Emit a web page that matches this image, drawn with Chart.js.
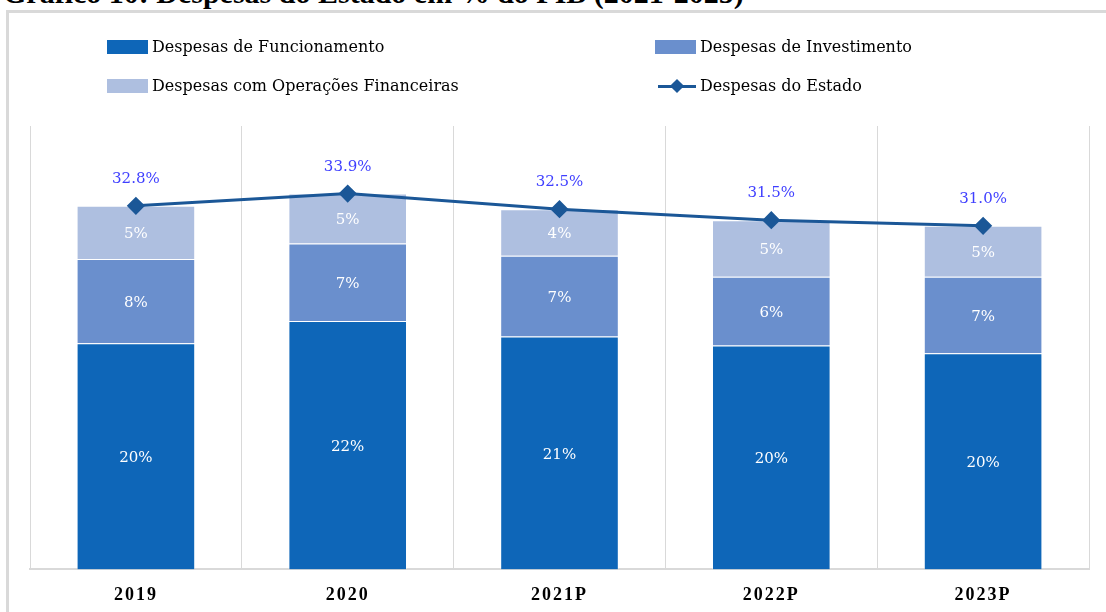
<!DOCTYPE html>
<html lang="pt">
<head>
<meta charset="utf-8">
<script src="https://cdn.jsdelivr.net/npm/chart.js@4"></script>
<style>
  html, body { margin: 0; padding: 0; background: #fff; overflow: hidden; }
  body { width: 1106px; height: 612px; position: relative; overflow: hidden; }
  .title { position: absolute; left: 3px; top: -24px; font: bold 30px "Liberation Serif", serif; color: #000; white-space: nowrap; }
  .frame { position: absolute; left: 6px; top: 10px; width: 1300px; height: 700px; border-left: 3px solid #d9d9d9; border-top: 3px solid #d9d9d9; }
  .wrap { position: absolute; left: 0; top: 0; width: 1106px; height: 629px; }
  .legend { position: absolute; font: 16px "DejaVu Serif", serif; color: #000; display: flex; align-items: center; white-space: nowrap; }
  .legend .box { width: 41px; height: 14px; margin-right: 4px; }
  .legend .ln { width: 38px; height: 14px; margin-right: 4px; position: relative; }
  .legend .ln::before { content: ""; position: absolute; left: 0; right: 0; top: 6px; height: 3px; background: #1b5797; }
  .legend .ln::after { content: ""; position: absolute; left: 14px; top: 2px; width: 10px; height: 10px; background: #1b5797; transform: rotate(45deg); }
</style>
</head>
<body>
<div class="title">Gráfico 10: Despesas do Estado em % do PIB (2021-2025)</div>
<div class="frame"></div>
<div class="wrap"><canvas id="chart"></canvas></div>
<div id="legend"></div>
<script>
const categories = ['2019', '2020', '2021P', '2022P', '2023P'];
const funcionamento = [20.4, 22.4, 21.0, 20.2, 19.5];
const investimento = [7.6, 7.0, 7.3, 6.2, 6.9];
const financeiras = [4.8, 4.5, 4.2, 5.1, 4.6];
const totalEstado = [32.8, 33.9, 32.5, 31.5, 31.0];

const seriesNames = ['Despesas de Funcionamento', 'Despesas de Investimento', 'Despesas com Operações Financeiras', 'Despesas do Estado'];
const barColors = ['#0e66b8', '#6a8fcd', '#aebfe0'];
const lineColor = '#1b5797';

// legend drawn as html, two columns like the original
const legendPos = [[107, 37], [655, 37], [107, 76], [658, 76]];
const legendEl = document.getElementById('legend');
seriesNames.forEach((name, i) => {
    const item = document.createElement('div');
    item.className = 'legend';
    item.style.left = legendPos[i][0] + 'px';
    item.style.top = legendPos[i][1] + 'px';
    const mark = document.createElement('span');
    if (i < 3) {
        mark.className = 'box';
        mark.style.background = barColors[i];
    } else {
        mark.className = 'ln';
    }
    item.appendChild(mark);
    item.appendChild(document.createTextNode(name));
    legendEl.appendChild(item);
});

const valueLabels = {
    id: 'valueLabels',
    beforeDraw(chart) {
        chart.ctx.letterSpacing = '2px';
    },
    beforeDatasetsDraw(chart) {
        chart.ctx.letterSpacing = '0px';
    },
    afterDatasetsDraw(chart) {
        const ctx = chart.ctx;
        ctx.save();
        ctx.textAlign = 'center';
        ctx.textBaseline = 'middle';
        chart.data.datasets.forEach((ds, di) => {
            const meta = chart.getDatasetMeta(di);
            meta.data.forEach((el, i) => {
                const v = ds.data[i];
                if (ds.type === 'line') {
                    ctx.font = '15px "DejaVu Serif", serif';
                    ctx.fillStyle = '#3f3fff';
                    ctx.fillText(v.toFixed(1) + '%', el.x, el.y - 27);
                } else {
                    const p = el.getProps(['x', 'y', 'base'], true);
                    ctx.font = '15px "DejaVu Serif", serif';
                    ctx.fillStyle = '#ffffff';
                    ctx.fillText(Math.round(v) + '%', p.x, (p.y + p.base) / 2 + 2);
                }
            });
        });
        ctx.restore();
    }
};

const ctx = document.getElementById('chart').getContext('2d');
new Chart(ctx, {
    type: 'bar',
    data: {
        labels: categories,
        datasets: [
            {
                type: 'line',
                label: seriesNames[3],
                data: totalEstado,
                stack: 'total',
                order: 0,
                borderColor: lineColor,
                backgroundColor: lineColor,
                borderWidth: 3,
                pointStyle: 'rectRot',
                pointRadius: 7,
                pointHoverRadius: 7,
                tension: 0
            },
            {
                label: seriesNames[0],
                data: funcionamento,
                backgroundColor: barColors[0],
                borderColor: 'rgba(255,255,255,0.35)',
                borderWidth: 1,
                order: 1
            },
            {
                label: seriesNames[1],
                data: investimento,
                backgroundColor: barColors[1],
                borderColor: 'rgba(255,255,255,0.35)',
                borderWidth: 1,
                order: 1
            },
            {
                label: seriesNames[2],
                data: financeiras,
                backgroundColor: barColors[2],
                borderColor: 'rgba(255,255,255,0.35)',
                borderWidth: 1,
                order: 1
            }
        ]
    },
    options: {
        responsive: true,
        maintainAspectRatio: false,
        animation: false,
        layout: { padding: { left: 30, right: 17, top: 126, bottom: 8 } },
        plugins: {
            legend: { display: false },
            tooltip: { enabled: false }
        },
        datasets: {
            bar: { categoryPercentage: 0.56, barPercentage: 1 }
        },
        scales: {
            x: {
                stacked: true,
                grid: { display: true, offset: true, color: '#d9d9d9', lineWidth: 1, drawTicks: false },
                border: { display: true, color: '#d9d9d9', width: 2 },
                ticks: {
                    color: '#000',
                    padding: 15,
                    font: { family: '"Liberation Serif", serif', size: 18, weight: 'bold' }
                }
            },
            y: {
                stacked: true,
                display: false,
                min: 0,
                max: 40
            }
        }
    },
    plugins: [valueLabels]
});
</script>
</body>
</html>
